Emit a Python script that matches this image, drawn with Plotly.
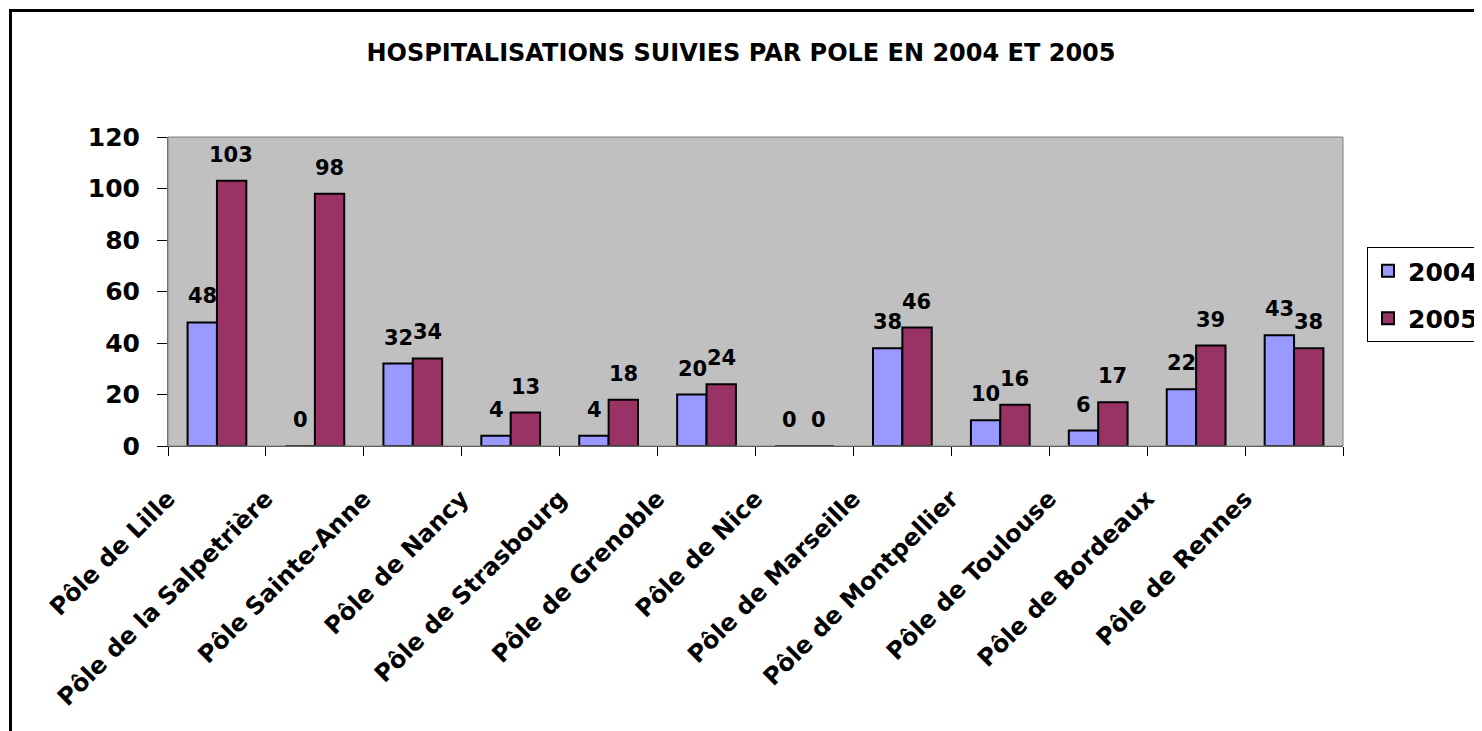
import plotly.graph_objects as go

# data
poles = ['Pôle de Lille', 'Pôle de la Salpetrière', 'Pôle Sainte-Anne', 'Pôle de Nancy',
         'Pôle de Strasbourg', 'Pôle de Grenoble', 'Pôle de Nice', 'Pôle de Marseille',
         'Pôle de Montpellier', 'Pôle de Toulouse', 'Pôle de Bordeaux', 'Pôle de Rennes']
hosp_2004 = [48, 0, 32, 4, 4, 20, 0, 38, 10, 6, 22, 43]
hosp_2005 = [103, 98, 34, 13, 18, 24, 0, 46, 16, 17, 39, 38]
y_ticks = [0, 20, 40, 60, 80, 100, 120]

FONT = 'DejaVu Sans'
OFF = 8  # the page body adds 8px around the figure
W, H = 1482 - OFF, 731 - OFF
# plot area in reference pixels: 168..1343 x 137..446
L, T = 168 - OFF, 137 - OFF
R, B = W - (1343 - OFF), H - (446 - OFF)
PW, PH = W - L - R, H - T - B


def px_x(p):
    # reference pixel -> paper x
    return (p - OFF - L) / PW


def px_y(p):
    # reference pixel -> paper y
    return (H - B - (p - OFF)) / PH


fig = go.Figure()
fig.add_trace(go.Bar(x=poles, y=hosp_2004, name='2004', legendgroup='a',
                     marker=dict(color='#9999FF', line=dict(color='black', width=2))))
fig.add_trace(go.Bar(x=poles, y=hosp_2005, name='2005', legendgroup='b',
                     marker=dict(color='#993366', line=dict(color='black', width=2))))

# value labels above each bar
for i, p in enumerate(poles):
    for vals, shift in ((hosp_2004, -14.5), (hosp_2005, 14.5)):
        fig.add_annotation(x=p, y=vals[i], text='<b>%d</b>' % vals[i], showarrow=False,
                           xshift=shift, yshift=12, yanchor='bottom',
                           font=dict(family=FONT, size=21, color='black'))

fig.update_layout(
    width=W, height=H,
    margin=dict(l=L, r=R, t=T, b=B, pad=0, autoexpand=False),
    paper_bgcolor='white',
    plot_bgcolor='#C0C0C0',
    barmode='group', bargap=0.4, bargroupgap=0,
    font=dict(family=FONT, color='black'),
    title=dict(text='<b>HOSPITALISATIONS SUIVIES PAR POLE EN 2004 ET 2005</b>',
               x=(741 - OFF) / W, xref='container', xanchor='center',
               y=1 - (53 - OFF) / H, yanchor='middle',
               font=dict(family=FONT, size=24, color='black')),
    legend=dict(x=px_x(1367), y=px_y(247), xanchor='left', yanchor='top',
                bgcolor='white', bordercolor='black', borderwidth=1,
                font=dict(family=FONT, size=25, color='black', weight='bold'),
                tracegroupgap=12),
    showlegend=True,
)

fig.update_xaxes(
    type='category', tickangle=-45, tickson='boundaries', automargin=False,
    ticks='outside', ticklen=9, tickcolor='black', tickwidth=1,
    showline=True, linecolor='#404040', linewidth=1,
    tickfont=dict(family=FONT, size=24, color='black', weight='bold'),
    ticklabelshift=-49, ticklabelstandoff=28,
    showgrid=False,
)
fig.update_yaxes(
    range=[0, 120], tickvals=y_ticks, automargin=False,
    ticks='outside', ticklen=10, tickcolor='black', tickwidth=1,
    showline=True, linecolor='#606060', linewidth=1,
    tickfont=dict(family=FONT, size=25, color='black', weight='bold'),
    ticklabelstandoff=12,
    showgrid=False, zeroline=False,
)

# plot area frame and outer chart border
fig.add_shape(type='rect', xref='paper', yref='paper', x0=0, x1=1, y0=0, y1=1,
              line=dict(color='#808080', width=1), layer='above')
fig.add_shape(type='rect', xref='paper', yref='paper',
              x0=px_x(10.5), x1=px_x(1500), y0=px_y(10.5), y1=px_y(760),
              line=dict(color='black', width=3), layer='above')

fig.write_html('out.html')
